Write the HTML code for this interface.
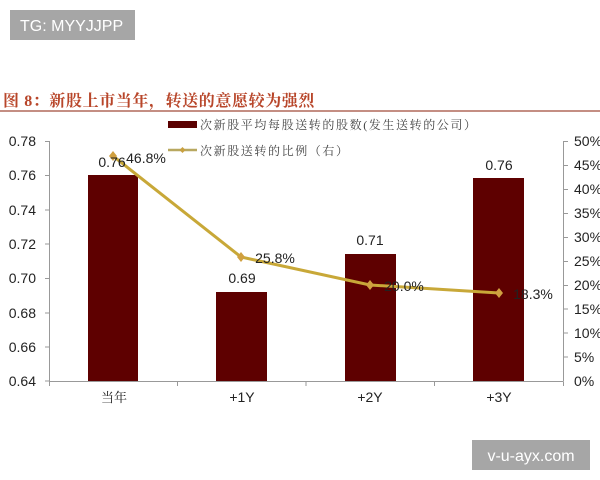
<!DOCTYPE html>
<html><head><meta charset="utf-8"><style>
html,body{margin:0;padding:0;background:#fff;}
svg{display:block;}
</style></head><body>
<svg width="600" height="480" xmlns="http://www.w3.org/2000/svg" font-family="'Liberation Sans','Noto Sans CJK SC',sans-serif">
<rect width="600" height="480" fill="#fff"/>
<!-- watermark top -->
<rect x="10" y="10" width="125" height="30" fill="#a6a6a6"/>
<text x="20" y="31" font-size="16" fill="#fff">TG: MYYJJPP</text>
<!-- title -->
<text x="3" y="106" font-size="16" font-weight="bold" fill="#b8462a" letter-spacing="0.6" font-family="'Liberation Serif','Noto Serif CJK SC',serif">图 8：新股上市当年，转送的意愿较为强烈</text>
<line x1="0" y1="111" x2="600" y2="111" stroke="#b0685a" stroke-width="1.5"/>
<!-- legend -->
<rect x="168" y="121" width="29" height="7" fill="#5a0000"/>
<text x="200" y="129" font-size="12" fill="#444" letter-spacing="1.6" font-family="'Liberation Serif','Noto Serif CJK SC',serif">次新股平均每股送转的股数(发生送转的公司）</text>
<line x1="168" y1="150" x2="197" y2="150" stroke="#b8a860" stroke-width="2.5"/>
<path d="M182.5 147 L185.5 150 L182.5 153 L179.5 150Z" fill="#c8a040"/>
<text x="200" y="155" font-size="12" fill="#444" letter-spacing="1.6" font-family="'Liberation Serif','Noto Serif CJK SC',serif">次新股送转的比例（右）</text>
<!-- axes -->
<g stroke="#999" stroke-width="1" fill="none">
<line x1="49.5" y1="141" x2="49.5" y2="381"/>
<line x1="45" y1="141.5" x2="49.5" y2="141.5"/>
<line x1="45" y1="175.5" x2="49.5" y2="175.5"/>
<line x1="45" y1="210" x2="49.5" y2="210"/>
<line x1="45" y1="244" x2="49.5" y2="244"/>
<line x1="45" y1="278.5" x2="49.5" y2="278.5"/>
<line x1="45" y1="313" x2="49.5" y2="313"/>
<line x1="45" y1="347" x2="49.5" y2="347"/>
<line x1="45" y1="381" x2="49.5" y2="381"/>
<line x1="563.5" y1="141" x2="563.5" y2="381"/>
<line x1="563.5" y1="141.5" x2="568" y2="141.5"/>
<line x1="563.5" y1="165.5" x2="568" y2="165.5"/>
<line x1="563.5" y1="189.5" x2="568" y2="189.5"/>
<line x1="563.5" y1="213.5" x2="568" y2="213.5"/>
<line x1="563.5" y1="237.5" x2="568" y2="237.5"/>
<line x1="563.5" y1="261.5" x2="568" y2="261.5"/>
<line x1="563.5" y1="285.5" x2="568" y2="285.5"/>
<line x1="563.5" y1="309" x2="568" y2="309"/>
<line x1="563.5" y1="333" x2="568" y2="333"/>
<line x1="563.5" y1="357" x2="568" y2="357"/>
<line x1="49.5" y1="381.5" x2="563.5" y2="381.5"/>
<line x1="49.5" y1="381.5" x2="49.5" y2="386"/>
<line x1="177.5" y1="381.5" x2="177.5" y2="386"/>
<line x1="306" y1="381.5" x2="306" y2="386"/>
<line x1="434.5" y1="381.5" x2="434.5" y2="386"/>
<line x1="563.5" y1="381.5" x2="563.5" y2="386"/>
</g>
<g font-size="14" fill="#222" text-anchor="end">
<text x="36" y="146">0.78</text>
<text x="36" y="180">0.76</text>
<text x="36" y="215">0.74</text>
<text x="36" y="249">0.72</text>
<text x="36" y="283">0.70</text>
<text x="36" y="318">0.68</text>
<text x="36" y="352">0.66</text>
<text x="36" y="386">0.64</text>
</g>
<g font-size="14" fill="#222" text-anchor="start">
<text x="574" y="146">50%</text>
<text x="574" y="170">45%</text>
<text x="574" y="194">40%</text>
<text x="574" y="218">35%</text>
<text x="574" y="242">30%</text>
<text x="574" y="266">25%</text>
<text x="574" y="290">20%</text>
<text x="574" y="314">15%</text>
<text x="574" y="338">10%</text>
<text x="574" y="362">5%</text>
<text x="574" y="386">0%</text>
</g>
<!-- bars -->
<g fill="#5e0000">
<rect x="88" y="175" width="50" height="206"/>
<rect x="216" y="292" width="51" height="89"/>
<rect x="345" y="254" width="51" height="127"/>
<rect x="473" y="178" width="51" height="203"/>
</g>
<!-- line -->
<polyline points="113,156 241,257 370,285 499,293" fill="none" stroke="#c8a838" stroke-width="3"/>
<g fill="#d0a040">
<path d="M113 151 L117 156 L113 161 L109 156Z"/>
<path d="M241 252 L245 257 L241 262 L237 257Z"/>
<path d="M370 280 L374 285 L370 290 L366 285Z"/>
<path d="M499 288 L503 293 L499 298 L495 293Z"/>
</g>
<!-- data labels -->
<g font-size="14" fill="#222" text-anchor="middle">
<text x="112" y="167">0.76</text>
<text x="146" y="163">46.8%</text>
<text x="242" y="283">0.69</text>
<text x="275" y="263">25.8%</text>
<text x="370" y="245">0.71</text>
<text x="404" y="291">20.0%</text>
<text x="499" y="170">0.76</text>
<text x="533" y="299">18.3%</text>
</g>
<!-- categories -->
<g font-size="14" fill="#222" text-anchor="middle">
<text x="114" y="402" font-size="13" font-family="'Liberation Serif','Noto Serif CJK SC',serif">当年</text>
<text x="242" y="402">+1Y</text>
<text x="370" y="402">+2Y</text>
<text x="499" y="402">+3Y</text>
</g>
<!-- watermark bottom -->
<rect x="472" y="440" width="118" height="30" fill="#a6a6a6"/>
<text x="531" y="461" font-size="16" fill="#fff" text-anchor="middle">v-u-ayx.com</text>
</svg>
</body></html>
